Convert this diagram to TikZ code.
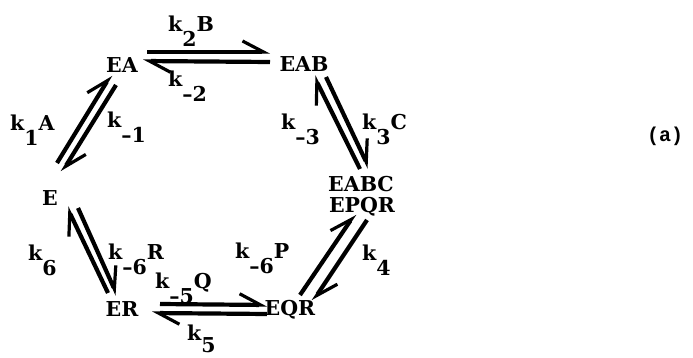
\documentclass[tikz,border=0pt]{standalone}
\usepackage{fontspec}
\setmainfont{DejaVu Serif}
\newfontfamily\tagfont{Liberation Mono}
\usetikzlibrary{arrows.meta,calc}

% rate constant: k, a full-size lowered index, then a species at k's baseline
\newcommand\kconst[2]{k\raisebox{-15pt}{#1}#2}

\begin{document}
\begin{tikzpicture}[x=1pt,y=-1pt,
  species/.style={inner sep=0pt, anchor=base, font=\bfseries\fontsize{20.5}{24}\selectfont},
  rate/.style={inner sep=0pt, anchor=base west, font=\bfseries\fontsize{20.5}{24}\selectfont},
  rx/.style={line width=4.2pt,
    -{Straight Barb[harpoon, length=21pt, width=22pt, line width=3.2pt]}}]
\useasboundingbox (0,0) rectangle (693,358);

% species
\node[species] (EA)   at (122,73)  {EA};
\node[species] (EAB)  at (304,72)  {EAB};
\node[species] (E)    at (50,205)  {E};
\node[species] (ER)   at (122,316) {ER};
\node[species] (EQR)  at (290,315) {EQR};
\node[species] (EABC) at (361,192) {EABC};
\node[species] (EPQR) at (362,212) {EPQR};

% rate constants
\node[rate] (k2)  at (168,32)  {\kconst{2}{B}};
\node[rate] (km2) at (168,87)  {\kconst{--2}{}};
\node[rate] (k1)  at (10,131)  {\kconst{1}{A}};
\node[rate] (km1) at (107,128) {\kconst{--1}{}};
\node[rate] (km3) at (281,130) {\kconst{--3}{}};
\node[rate] (k3)  at (362,130) {\kconst{3}{C}};
\node[rate] (k6)  at (28,260)  {\kconst{6}{}};
\node[rate] (km6R) at (108,259) {\kconst{--6}{R}};
\node[rate] (km6P) at (235,258) {\kconst{--6}{P}};
\node[rate] (km5) at (155,288) {\kconst{--5}{Q}};
\node[rate] (k4)  at (362,260) {\kconst{4}{}};
\node[rate] (k5)  at (187,340) {k\raisebox{-12pt}{5}};

\node[inner sep=0pt, anchor=base, font=\tagfont\bfseries\fontsize{20}{22}\selectfont]
  (tag) at (665,142) {(a)};

% EA <=> EAB
\draw[rx] ($(EA.base)+(25,-21)$)  -- ($(EAB.base)+(-34,-20)$);
\draw[rx] ($(EAB.base)+(-34,-10)$) -- ($(EA.base)+(21,-12)$);

% E <=> EA
\draw[rx] ($(E.base)+(7,-42)$)  -- ($(EA.base)+(-11,2)$);
\draw[rx] ($(EA.base)+(-6,12)$) -- ($(E.base)+(12,-33)$);

% EAB <=> EABC
\draw[rx] ($(EABC.base)+(-1,-23)$) -- ($(EAB.base)+(10,4)$);
\draw[rx] ($(EAB.base)+(22,5)$)    -- ($(EABC.base)+(8,-24)$);

% EQR <=> EPQR
\draw[rx] ($(EQR.base)+(10,-20)$) -- ($(EPQR.base)+(-7,2)$);
\draw[rx] ($(EPQR.base)+(5,8)$)   -- ($(EQR.base)+(23,-14)$);

% ER <=> E
\draw[rx] ($(ER.base)+(-14,-23)$) -- ($(E.base)+(17,2)$);
\draw[rx] ($(E.base)+(28,3)$)     -- ($(ER.base)+(-5,-21)$);

% ER <=> EQR
\draw[rx] ($(ER.base)+(38,-12)$) -- ($(EQR.base)+(-23,-10)$);
\draw[rx] ($(EQR.base)+(-23,-1)$) -- ($(ER.base)+(30,-3)$);
\end{tikzpicture}
\end{document}
